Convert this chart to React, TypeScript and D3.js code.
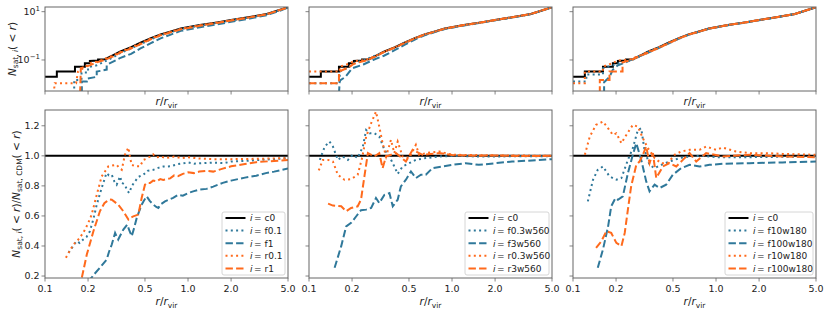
import React from 'react';
import * as d3 from 'd3';

type P = [number, number];

const BLUE = '#2f789a';
const ORANGE = '#ff6a1c';

const xTicks = [0.1, 0.2, 0.5, 1.0, 2.0, 5.0];
const xTickLabels = ['0.1', '0.2', '0.5', '1.0', '2.0', '5.0'];
const ratioTicks = [0.2, 0.4, 0.6, 0.8, 1.0, 1.2];
const ratioTickLabels = ['0.2', '0.4', '0.6', '0.8', '1.0', '1.2'];
const cumTicks = [0.1, 10];
const cumTickExps = ['−1', '1'];

const legend1 = ['c0', 'f0.1', 'f1', 'r0.1', 'r1'];
const legend2 = ['c0', 'f0.3w560', 'f3w560', 'r0.3w560', 'r3w560'];
const legend3 = ['c0', 'f10w180', 'f100w180', 'r10w180', 'r100w180'];

// ---- cumulative counts (top row) ----
const cumC0: P[] = [[0.1,0.0204],[0.121,0.0204],[0.121,0.033],[0.162,0.033],[0.162,0.053],[0.19,0.053],[0.19,0.073],[0.206,0.073],[0.206,0.091],[0.235,0.095],[0.235,0.105],[0.263,0.108],[0.3,0.16],[0.334,0.22],[0.4,0.34],[0.465,0.52],[0.55,0.8],[0.643,1.15],[0.75,1.48],[0.89,2.0],[1.21,2.8],[1.6,3.6],[2.0,4.5],[2.7,6.0],[3.56,8.0],[4.3,11.5],[5.0,15.2]];

const cumF01: P[] = [[0.16,0.004],[0.16,0.015],[0.18,0.015],[0.18,0.03],[0.2,0.03],[0.2,0.05],[0.23,0.06],[0.26,0.085],[0.3,0.13],[0.334,0.19],[0.4,0.3],[0.465,0.45],[0.55,0.72],[0.643,1.05],[0.75,1.38],[0.89,1.9],[1.21,2.65],[1.6,3.45],[2.0,4.3],[2.7,5.8],[3.56,7.8],[4.3,11.2],[5.0,15.0]];
const cumF1: P[] = [[0.181,0.004],[0.181,0.013],[0.196,0.013],[0.196,0.017],[0.23,0.02],[0.23,0.033],[0.27,0.04],[0.27,0.063],[0.334,0.12],[0.4,0.18],[0.465,0.3],[0.55,0.5],[0.643,0.79],[0.75,1.1],[0.89,1.6],[1.21,2.26],[1.6,3.0],[2.0,3.8],[2.7,5.2],[3.56,7.2],[4.3,10.5],[5.0,15.0]];
const cumR01: P[] = [[0.115,0.004],[0.117,0.011],[0.165,0.011],[0.17,0.033],[0.19,0.05],[0.206,0.074],[0.24,0.09],[0.28,0.13],[0.334,0.21],[0.4,0.33],[0.465,0.49],[0.55,0.78],[0.643,1.12],[0.75,1.45],[0.89,1.95],[1.21,2.75],[1.6,3.55],[2.0,4.45],[2.7,5.9],[3.56,7.9],[4.3,11.4],[5.0,15.0]];
const cumR1: P[] = [[0.176,0.004],[0.178,0.046],[0.206,0.06],[0.23,0.08],[0.26,0.1],[0.3,0.14],[0.334,0.2],[0.4,0.3],[0.465,0.45],[0.55,0.72],[0.643,1.05],[0.75,1.38],[0.89,1.85],[1.21,2.6],[1.6,3.4],[2.0,4.3],[2.7,5.8],[3.56,7.8],[4.3,11.2],[5.0,15.0]];

const cumF03w560: P[] = [[0.1,0.011],[0.164,0.011],[0.164,0.033],[0.19,0.05],[0.206,0.075],[0.24,0.095],[0.28,0.14],[0.334,0.21],[0.4,0.33],[0.465,0.5],[0.55,0.78],[0.643,1.12],[0.75,1.45],[0.89,1.95],[1.21,2.75],[1.6,3.55],[2.0,4.45],[2.7,5.9],[3.56,7.9],[4.3,11.3],[5.0,15.0]];
const cumF3w560: P[] = [[0.162,0.004],[0.164,0.014],[0.18,0.02],[0.2,0.045],[0.24,0.065],[0.28,0.1],[0.334,0.15],[0.4,0.26],[0.465,0.42],[0.55,0.7],[0.643,1.05],[0.75,1.4],[0.89,1.9],[1.21,2.7],[1.6,3.5],[2.0,4.4],[2.7,5.9],[3.56,7.9],[4.3,11.3],[5.0,15.0]];
const cumR03w560: P[] = [[0.1,0.033],[0.164,0.033],[0.164,0.053],[0.19,0.07],[0.206,0.09],[0.25,0.1],[0.3,0.16],[0.334,0.22],[0.4,0.34],[0.465,0.52],[0.55,0.8],[0.643,1.15],[0.75,1.48],[0.89,2.0],[1.21,2.8],[1.6,3.6],[2.0,4.5],[2.7,6.0],[3.56,8.0],[4.3,11.5],[5.0,15.2]];
const cumR3w560: P[] = [[0.1,0.011],[0.162,0.011],[0.162,0.033],[0.19,0.05],[0.206,0.07],[0.25,0.095],[0.3,0.15],[0.334,0.21],[0.4,0.33],[0.465,0.5],[0.55,0.78],[0.643,1.12],[0.75,1.46],[0.89,1.98],[1.21,2.78],[1.6,3.58],[2.0,4.48],[2.7,6.0],[3.56,8.0],[4.3,11.5],[5.0,15.2]];

const cumF10w180: P[] = [[0.1,0.013],[0.124,0.013],[0.124,0.025],[0.162,0.025],[0.162,0.045],[0.19,0.06],[0.22,0.08],[0.26,0.1],[0.3,0.15],[0.334,0.21],[0.4,0.33],[0.465,0.5],[0.55,0.78],[0.643,1.12],[0.75,1.45],[0.89,1.97],[1.21,2.78],[1.6,3.58],[2.0,4.48],[2.7,6.0],[3.56,8.0],[4.3,11.5],[5.0,15.2]];
const cumF100w180: P[] = [[0.165,0.004],[0.165,0.012],[0.18,0.02],[0.19,0.04],[0.206,0.06],[0.24,0.085],[0.28,0.13],[0.334,0.2],[0.4,0.32],[0.465,0.48],[0.55,0.76],[0.643,1.1],[0.75,1.43],[0.89,1.95],[1.21,2.75],[1.6,3.55],[2.0,4.45],[2.7,5.95],[3.56,7.95],[4.3,11.4],[5.0,15.1]];
const cumR10w180: P[] = [[0.1,0.011],[0.121,0.011],[0.121,0.033],[0.162,0.033],[0.162,0.053],[0.19,0.075],[0.206,0.095],[0.25,0.105],[0.3,0.16],[0.334,0.22],[0.4,0.34],[0.465,0.52],[0.55,0.8],[0.643,1.15],[0.75,1.48],[0.89,2.0],[1.21,2.8],[1.6,3.6],[2.0,4.5],[2.7,6.0],[3.56,8.0],[4.3,11.5],[5.0,15.2]];
const cumR100w180: P[] = [[0.154,0.004],[0.154,0.015],[0.18,0.015],[0.18,0.033],[0.222,0.033],[0.222,0.08],[0.25,0.095],[0.28,0.13],[0.334,0.2],[0.4,0.32],[0.465,0.49],[0.55,0.77],[0.643,1.12],[0.75,1.45],[0.89,1.97],[1.21,2.78],[1.6,3.58],[2.0,4.48],[2.7,6.0],[3.56,8.0],[4.3,11.5],[5.0,15.2]];

// ---- ratios (bottom row) ----
const ratioC0: P[] = [[0.1,1.0],[5.0,1.0]];

const ratioF01: P[] = [[0.146,0.355],[0.155,0.39],[0.166,0.432],[0.175,0.42],[0.185,0.443],[0.195,0.46],[0.206,0.498],[0.218,0.58],[0.23,0.675],[0.249,0.786],[0.269,0.885],[0.28,0.87],[0.293,0.874],[0.305,0.83],[0.317,0.808],[0.335,0.863],[0.345,0.82],[0.362,0.808],[0.375,0.77],[0.388,0.753],[0.405,0.8],[0.426,0.83],[0.45,0.86],[0.487,0.874],[0.52,0.9],[0.572,0.907],[0.62,0.92],[0.671,0.929],[0.75,0.93],[0.85,0.945],[0.95,0.952],[1.0,0.956],[1.1,0.948],[1.2,0.95],[1.5,0.955],[1.8,0.952],[2.0,0.962],[2.5,0.966],[3.0,0.972],[4.0,0.978],[5.0,0.985]];
const ratioF1: P[] = [[0.2,0.16],[0.22,0.21],[0.242,0.255],[0.27,0.31],[0.28,0.36],[0.293,0.41],[0.309,0.487],[0.318,0.46],[0.325,0.443],[0.34,0.48],[0.353,0.509],[0.376,0.542],[0.39,0.5],[0.404,0.465],[0.42,0.52],[0.438,0.587],[0.474,0.675],[0.49,0.7],[0.514,0.73],[0.54,0.7],[0.572,0.675],[0.6,0.66],[0.62,0.653],[0.65,0.68],[0.69,0.697],[0.74,0.71],[0.787,0.72],[0.85,0.74],[0.92,0.735],[1.0,0.752],[1.1,0.765],[1.2,0.775],[1.35,0.78],[1.5,0.795],[1.75,0.82],[2.0,0.835],[2.5,0.855],[3.0,0.868],[3.5,0.885],[4.0,0.895],[5.0,0.916]];
const ratioR01: P[] = [[0.14,0.322],[0.158,0.41],[0.17,0.44],[0.185,0.487],[0.2,0.55],[0.212,0.609],[0.23,0.741],[0.249,0.863],[0.277,0.929],[0.295,0.935],[0.317,0.94],[0.33,0.92],[0.344,0.907],[0.362,1.007],[0.372,1.03],[0.383,1.055],[0.395,0.98],[0.404,0.94],[0.43,0.93],[0.462,0.93],[0.487,0.973],[0.51,0.98],[0.542,0.995],[0.57,1.01],[0.6,0.99],[0.65,0.995],[0.7,0.985],[0.8,0.995],[0.9,0.985],[1.0,0.99],[1.2,0.982],[1.5,0.978],[2.0,0.978],[3.0,0.98],[5.0,0.985]];
const ratioR1: P[] = [[0.181,0.19],[0.196,0.343],[0.218,0.498],[0.242,0.631],[0.26,0.685],[0.27,0.697],[0.283,0.71],[0.293,0.708],[0.31,0.69],[0.325,0.675],[0.353,0.631],[0.383,0.576],[0.4,0.59],[0.414,0.597],[0.449,0.609],[0.474,0.719],[0.5,0.808],[0.52,0.82],[0.542,0.819],[0.57,0.835],[0.604,0.83],[0.64,0.845],[0.671,0.84],[0.75,0.85],[0.8,0.87],[0.85,0.865],[0.92,0.88],[1.0,0.89],[1.1,0.885],[1.2,0.895],[1.35,0.9],[1.5,0.895],[1.75,0.915],[2.0,0.93],[2.5,0.945],[3.0,0.958],[4.0,0.966],[5.0,0.973]];

const ratioF03w560: P[] = [[0.119,0.973],[0.129,1.062],[0.139,1.095],[0.147,1.062],[0.159,0.973],[0.172,0.996],[0.187,0.973],[0.202,1.007],[0.219,0.985],[0.238,1.062],[0.251,1.172],[0.265,1.15],[0.287,1.15],[0.31,1.128],[0.337,1.04],[0.365,0.996],[0.395,0.929],[0.417,0.88],[0.451,0.929],[0.502,0.951],[0.559,0.973],[0.656,0.985],[0.813,0.996],[1.12,1.0],[1.5,0.995],[2.0,0.996],[3.0,0.997],[5.0,0.997]];
const ratioF3w560: P[] = [[0.151,0.255],[0.168,0.399],[0.182,0.531],[0.197,0.554],[0.214,0.598],[0.231,0.638],[0.251,0.642],[0.272,0.653],[0.294,0.719],[0.31,0.686],[0.337,0.741],[0.365,0.752],[0.385,0.664],[0.417,0.708],[0.439,0.797],[0.476,0.841],[0.516,0.896],[0.559,0.852],[0.606,0.874],[0.656,0.874],[0.73,0.918],[0.857,0.929],[1.006,0.94],[1.246,0.951],[1.54,0.94],[2.01,0.951],[2.63,0.962],[3.63,0.969],[5.0,0.978]];
const ratioR03w560: P[] = [[0.117,0.903],[0.125,0.973],[0.136,0.973],[0.147,0.962],[0.159,0.874],[0.177,0.841],[0.197,0.845],[0.219,0.874],[0.235,0.985],[0.251,1.128],[0.272,1.217],[0.294,1.294],[0.31,1.194],[0.327,1.084],[0.346,0.996],[0.374,1.106],[0.395,1.018],[0.417,1.095],[0.451,0.996],[0.502,0.985],[0.559,1.073],[0.589,1.007],[0.656,1.018],[0.813,1.029],[1.006,1.007],[1.5,1.005],[2.0,1.003],[3.0,1.002],[5.0,1.0]];
const ratioR3w560: P[] = [[0.136,0.682],[0.147,0.669],[0.168,0.664],[0.182,0.631],[0.197,0.653],[0.219,0.664],[0.231,0.708],[0.244,0.863],[0.258,1.018],[0.287,0.996],[0.31,1.018],[0.327,0.918],[0.346,0.996],[0.406,1.018],[0.476,0.962],[0.53,1.04],[0.622,1.007],[0.813,1.018],[1.0,1.005],[1.5,1.0],[2.0,1.003],[3.0,0.998],[5.0,1.0]];

const ratioF10w180: P[] = [[0.127,0.697],[0.138,0.841],[0.149,0.907],[0.162,0.929],[0.18,0.863],[0.201,0.841],[0.218,0.852],[0.242,0.973],[0.262,1.051],[0.284,1.172],[0.3,1.183],[0.316,1.04],[0.343,0.94],[0.372,0.918],[0.414,0.94],[0.473,0.962],[0.556,0.985],[0.653,0.996],[0.809,1.0],[1.0,0.991],[1.71,0.991],[3.0,0.994],[5.0,0.996]];
const ratioF100w180: P[] = [[0.149,0.255],[0.162,0.377],[0.176,0.531],[0.185,0.664],[0.198,0.719],[0.206,0.708],[0.223,0.73],[0.242,0.885],[0.262,1.007],[0.277,1.084],[0.3,0.973],[0.325,0.83],[0.343,0.764],[0.372,0.808],[0.403,0.786],[0.448,0.808],[0.499,0.874],[0.571,0.918],[0.653,0.94],[0.766,0.929],[0.9,0.94],[1.11,0.947],[1.71,0.951],[2.92,0.956],[5.0,0.962]];
const ratioR10w180: P[] = [[0.121,1.007],[0.131,1.128],[0.145,1.206],[0.162,1.228],[0.176,1.183],[0.19,1.139],[0.201,1.15],[0.218,1.084],[0.236,1.139],[0.262,1.206],[0.284,1.194],[0.308,1.117],[0.334,1.051],[0.372,0.985],[0.414,0.951],[0.46,0.951],[0.513,1.007],[0.571,1.029],[0.653,1.04],[0.766,1.04],[0.853,1.062],[1.0,1.04],[1.11,1.055],[1.38,1.029],[1.71,1.018],[2.24,1.018],[2.92,1.013],[5.0,1.007]];
const ratioR100w180: P[] = [[0.145,0.388],[0.158,0.432],[0.171,0.498],[0.185,0.487],[0.201,0.421],[0.218,0.399],[0.23,0.487],[0.242,0.642],[0.255,0.797],[0.277,0.94],[0.292,0.962],[0.308,1.007],[0.325,1.062],[0.343,0.951],[0.362,1.018],[0.382,0.852],[0.425,0.929],[0.473,0.951],[0.527,0.929],[0.586,0.973],[0.653,1.018],[0.727,0.962],[0.853,1.018],[1.11,0.996],[1.71,1.007],[2.92,0.996],[5.0,0.991]];

const panels = [
  { legend: legend1, top: [cumC0, cumF01, cumF1, cumR01, cumR1], bottom: [ratioC0, ratioF01, ratioF1, ratioR01, ratioR1] },
  { legend: legend2, top: [cumC0, cumF03w560, cumF3w560, cumR03w560, cumR3w560], bottom: [ratioC0, ratioF03w560, ratioF3w560, ratioR03w560, ratioR3w560] },
  { legend: legend3, top: [cumC0, cumF10w180, cumF100w180, cumR10w180, cumR100w180], bottom: [ratioC0, ratioF10w180, ratioF100w180, ratioR10w180, ratioR100w180] },
];

const STYLES = [
  { stroke: '#000', dash: undefined as string | undefined },
  { stroke: BLUE, dash: '2,3.3' },
  { stroke: BLUE, dash: '7.4,3.2' },
  { stroke: ORANGE, dash: '2,3.3' },
  { stroke: ORANGE, dash: '7.4,3.2' },
];

const PX = [45, 309, 573];
const W = 243;
const TOP_Y = 7, TOP_H = 84;
const BOT_Y = 110, BOT_H = 168;
const LEG_W = [63, 84, 88];
const FONT = 'DejaVu Sans, sans-serif';
const SPINE = '#666';
const TXT = '#222';
const TICK_FS = 9.5;
const LAB_FS = 10.5;

function RLabel({ x, y }: { x: number; y: number }) {
  return (
    <text x={x} y={y} textAnchor="middle" fontSize={LAB_FS} fill={TXT} fontFamily={FONT}>
      <tspan fontStyle="italic">r</tspan>
      <tspan>/</tspan>
      <tspan fontStyle="italic">r</tspan>
      <tspan dy={2.5} fontSize={7.5}>vir</tspan>
    </text>
  );
}

export default function App() {
  const x = d3.scaleLog().domain([0.1, 5]).range([0, W]);
  const yTop = d3.scaleLog().domain([0.0052, 15.6]).range([TOP_H, 0]);
  const yBot = d3.scaleLinear().domain([0.187, 1.305]).range([BOT_H, 0]);
  const lineTop = d3.line<P>().x(d => x(d[0])).y(d => yTop(d[1]));
  const lineBot = d3.line<P>().x(d => x(d[0])).y(d => yBot(d[1]));

  return (
    <svg width={831} height={312} style={{ position: 'absolute', left: 0, top: 0, background: '#fff' }} fontFamily={FONT}>
      <defs>
        {PX.map((px, i) => (
          <React.Fragment key={i}>
            <clipPath id={`ct${i}`}><rect x={0} y={0} width={W} height={TOP_H} /></clipPath>
            <clipPath id={`cb${i}`}><rect x={0} y={0} width={W} height={BOT_H} /></clipPath>
          </React.Fragment>
        ))}
      </defs>
      {panels.map((p, i) => (
        <g key={i}>
          {/* top panel */}
          <g transform={`translate(${PX[i]},${TOP_Y})`}>
            <g clipPath={`url(#ct${i})`}>
              {p.top.map((s, k) => (
                <path key={k} d={lineTop(s) || ''} fill="none" stroke={STYLES[k].stroke} strokeWidth={2}
                  strokeDasharray={STYLES[k].dash} />
              ))}
            </g>
            <rect x={0} y={0} width={W} height={TOP_H} fill="none" stroke={SPINE} strokeWidth={1} />
            {xTicks.map((t, j) => (
              <line key={j} x1={x(t)} x2={x(t)} y1={TOP_H} y2={TOP_H + 3.5} stroke={SPINE} strokeWidth={0.8} />
            ))}
            {cumTicks.map((t, j) => (
              <g key={j}>
                <line x1={-3.5} x2={0} y1={yTop(t)} y2={yTop(t)} stroke={SPINE} strokeWidth={0.8} />
                {i === 0 && (
                  <text x={-5} y={yTop(t) + 3.5} textAnchor="end" fontSize={TICK_FS} fill={TXT}>
                    <tspan>10</tspan>
                    <tspan dy={-4.5} fontSize={7}>{cumTickExps[j]}</tspan>
                  </text>
                )}
              </g>
            ))}
            <RLabel x={W / 2} y={TOP_H + 14} />
          </g>
          {/* bottom panel */}
          <g transform={`translate(${PX[i]},${BOT_Y})`}>
            <g clipPath={`url(#cb${i})`}>
              {p.bottom.map((s, k) => (
                <path key={k} d={lineBot(s) || ''} fill="none" stroke={STYLES[k].stroke} strokeWidth={2}
                  strokeDasharray={STYLES[k].dash} />
              ))}
            </g>
            <rect x={0} y={0} width={W} height={BOT_H} fill="none" stroke={SPINE} strokeWidth={1} />
            {xTicks.map((t, j) => (
              <g key={j}>
                <line x1={x(t)} x2={x(t)} y1={BOT_H} y2={BOT_H + 3.5} stroke={SPINE} strokeWidth={0.8} />
                <text x={x(t)} y={BOT_H + 14} textAnchor="middle" fontSize={TICK_FS} fill={TXT}>{xTickLabels[j]}</text>
              </g>
            ))}
            {ratioTicks.map((t, j) => (
              <g key={j}>
                <line x1={-3.5} x2={0} y1={yBot(t)} y2={yBot(t)} stroke={SPINE} strokeWidth={0.8} />
                {i === 0 && (
                  <text x={-5.5} y={yBot(t) + 3.4} textAnchor="end" fontSize={TICK_FS} fill={TXT}>{ratioTickLabels[j]}</text>
                )}
              </g>
            ))}
            <RLabel x={W / 2} y={BOT_H + 27} />
            {/* legend */}
            <g transform={`translate(${W - LEG_W[i] - 3},${BOT_H - 66})`}>
              <rect x={0} y={0} width={LEG_W[i]} height={63} rx={2} fill="#fff" fillOpacity={0.85} stroke="#ccc" strokeWidth={0.8} />
              {p.legend.map((lab, k) => (
                <g key={k} transform={`translate(0,${6 + k * 12.6})`}>
                  <line x1={3.5} x2={23.5} y1={0} y2={0} stroke={STYLES[k].stroke} strokeWidth={2} strokeDasharray={STYLES[k].dash} />
                  <text x={28} y={3.3} fontSize={9} fill={TXT}>
                    <tspan fontStyle="italic">i</tspan>
                    <tspan dx={1.5}>=</tspan>
                    <tspan dx={3}>{lab}</tspan>
                  </text>
                </g>
              ))}
            </g>
          </g>
        </g>
      ))}
      {/* y axis labels */}
      <text transform={`translate(15.5,${TOP_Y + TOP_H / 2}) rotate(-90)`} textAnchor="middle" fontSize={LAB_FS} fill={TXT}>
        <tspan fontStyle="italic">N</tspan>
        <tspan dy={2.5} fontSize={7.5}>sat, </tspan>
        <tspan fontSize={7.5} fontStyle="italic">i</tspan>
        <tspan dy={-2.5}>( &lt; </tspan>
        <tspan fontStyle="italic">r</tspan>
        <tspan>)</tspan>
      </text>
      <text transform={`translate(19.5,${BOT_Y + BOT_H / 2}) rotate(-90)`} textAnchor="middle" fontSize={LAB_FS} fill={TXT}>
        <tspan fontStyle="italic">N</tspan>
        <tspan dy={2.5} fontSize={7.5}>sat, </tspan>
        <tspan fontSize={7.5} fontStyle="italic">i</tspan>
        <tspan dy={-2.5}>( &lt; </tspan>
        <tspan fontStyle="italic">r</tspan>
        <tspan>)/</tspan>
        <tspan fontStyle="italic">N</tspan>
        <tspan dy={2.5} fontSize={7.5}>sat, CDM</tspan>
        <tspan dy={-2.5}>( &lt; </tspan>
        <tspan fontStyle="italic">r</tspan>
        <tspan>)</tspan>
      </text>
    </svg>
  );
}
